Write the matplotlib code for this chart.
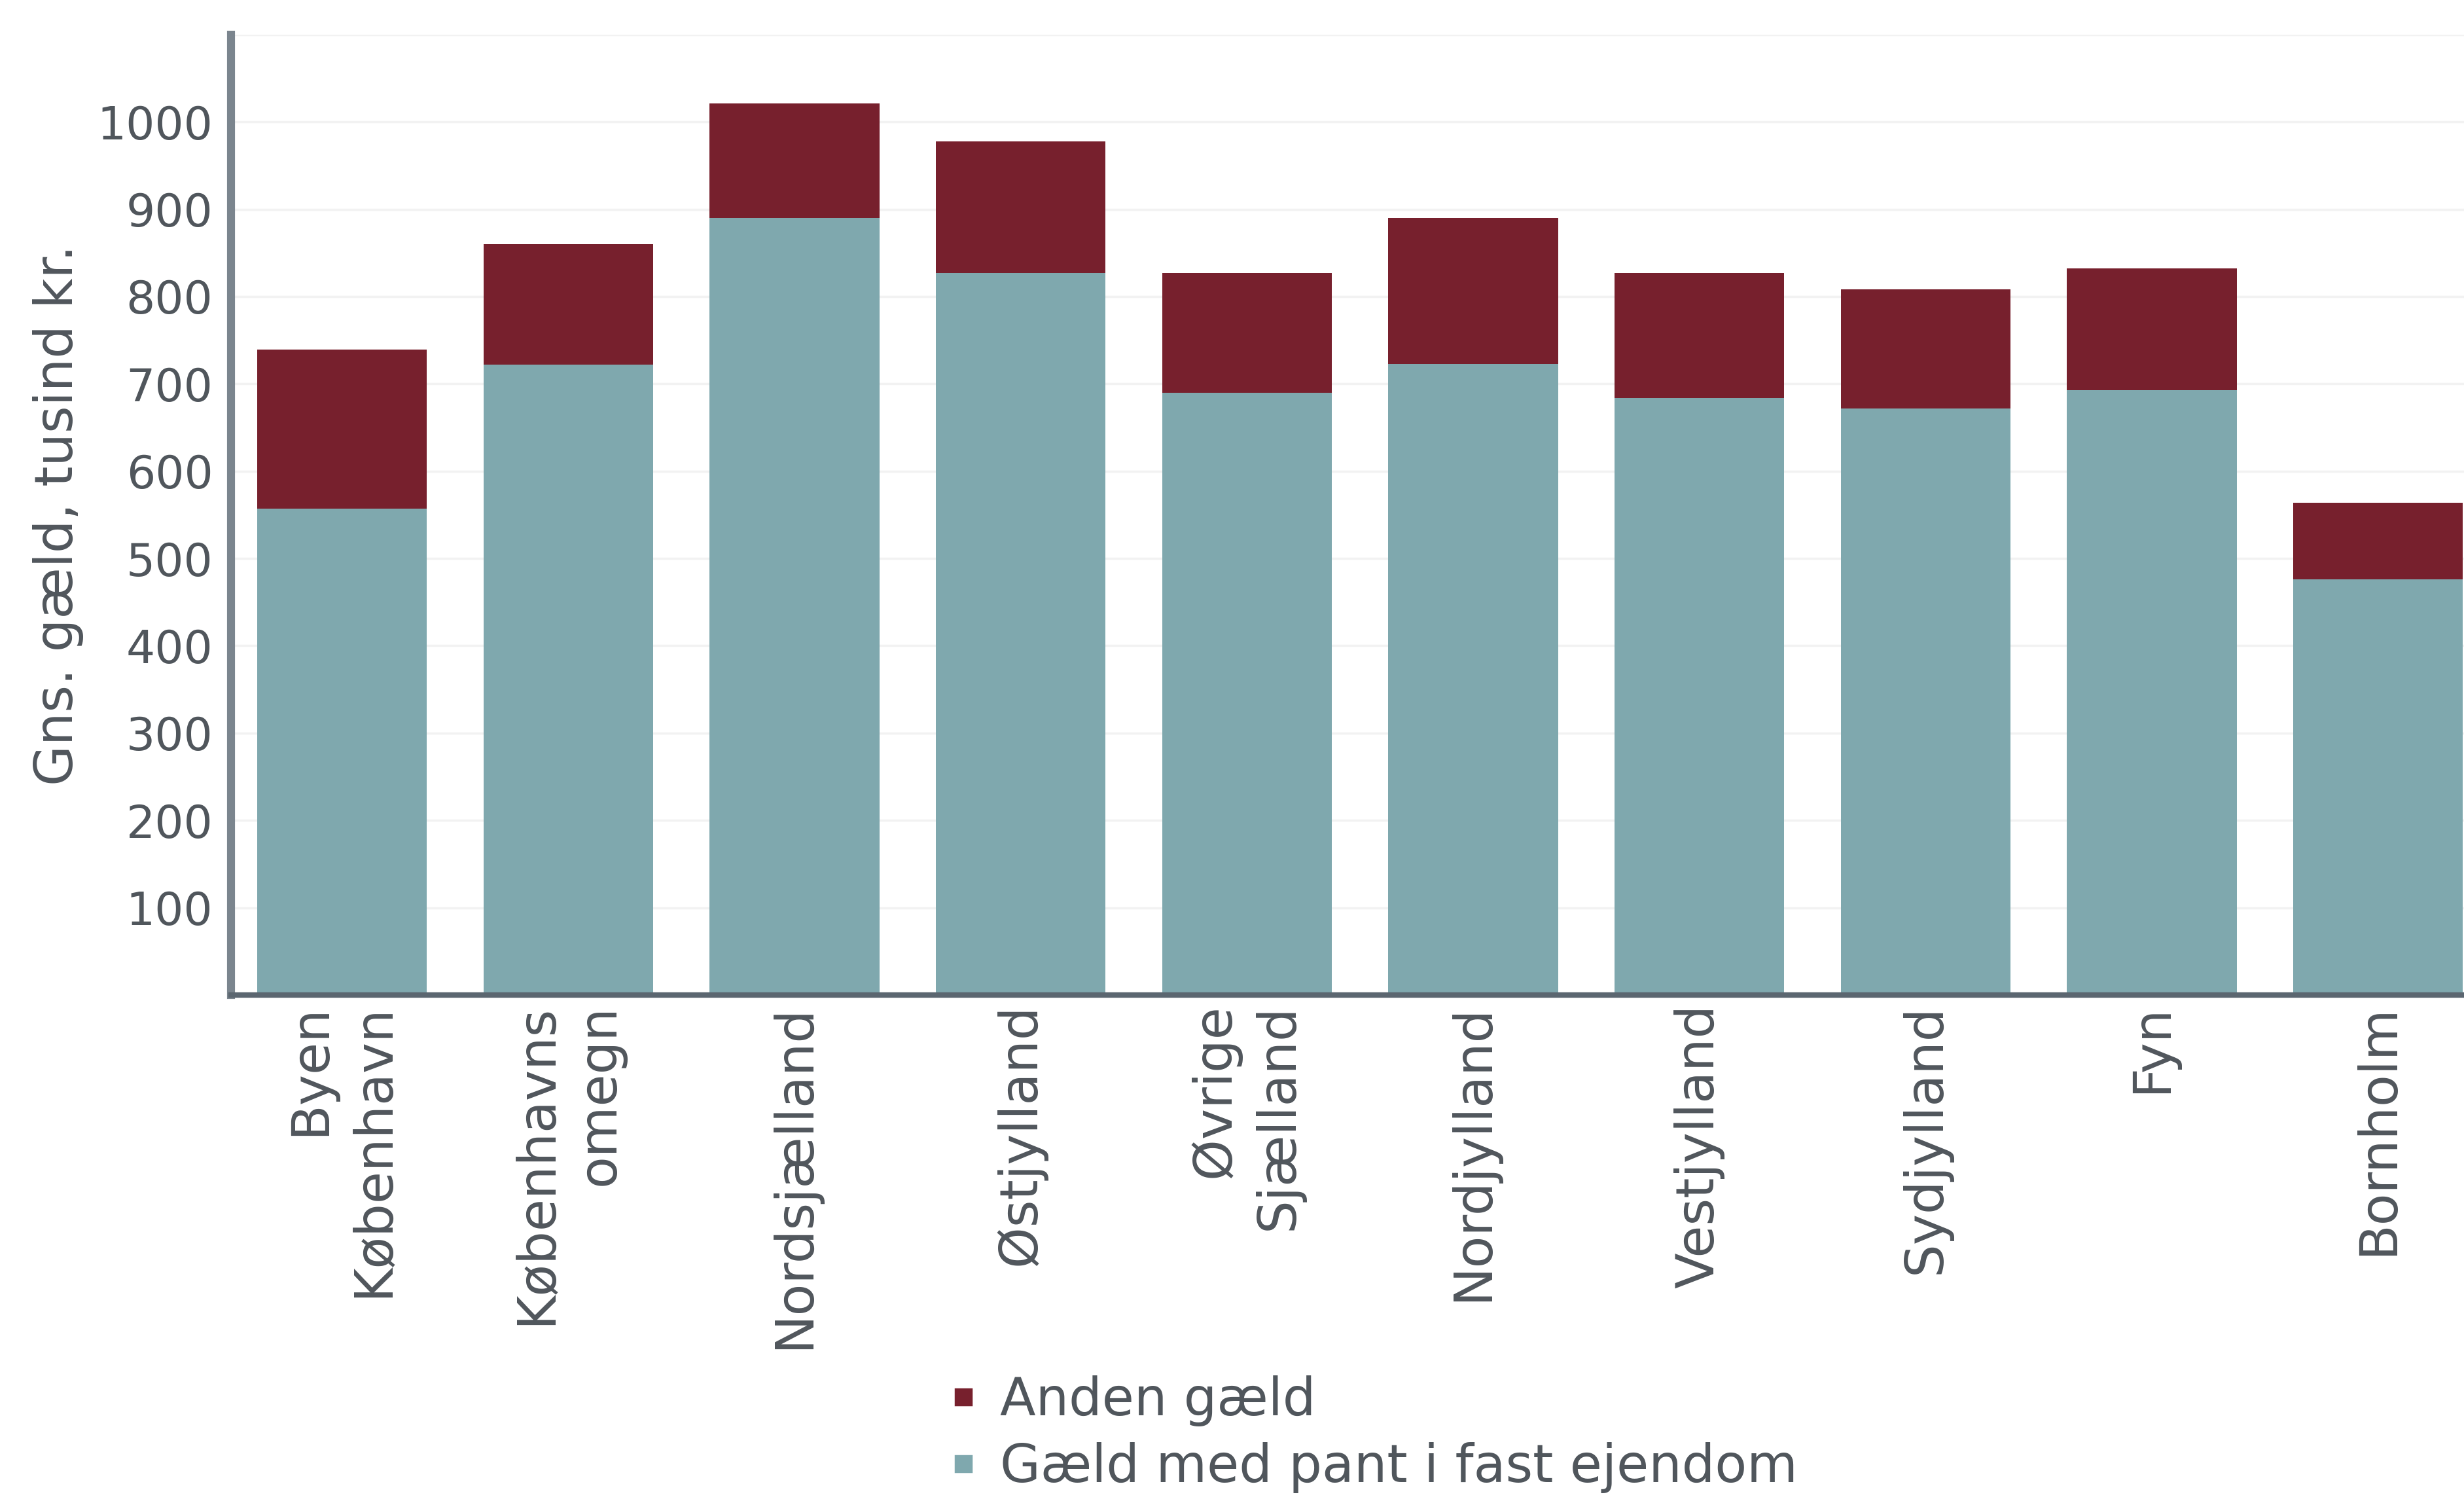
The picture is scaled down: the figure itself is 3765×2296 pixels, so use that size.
import numpy as np
from matplotlib import pyplot as plt
from matplotlib.lines import Line2D

regioner = ['Byen\nKøbenhavn', 'Københavns\nomegn', 'Nordsjælland', 'Østjylland',
            'Øvrige\nSjælland', 'Nordjylland', 'Vestjylland', 'Sydjylland', 'Fyn', 'Bornholm']
pant = [557, 722, 890, 827, 690, 723, 684, 672, 693, 476]
anden = [182, 138, 131, 151, 137, 167, 143, 136, 139, 88]
yticks = [100, 200, 300, 400, 500, 600, 700, 800, 900, 1000]

teal = '#7fa8ae'
rod = '#77202d'
txt = '#50565c'

plt.rcParams['font.family'] = ['DejaVu Sans']

fig = plt.figure(figsize=(15.06, 9.184), dpi=250)
ax = fig.add_axes([0.0938, 0.338, 0.9062, 0.639])

x = np.arange(len(regioner))
ax.bar(x, pant, width=0.75, color=teal, zorder=2)
ax.bar(x, anden, width=0.75, bottom=pant, color=rod, zorder=2)

ax.set_xlim(-0.49, 9.38)
ax.set_ylim(0, 1100)
ax.set_yticks(yticks)
ax.set_yticklabels([str(v) for v in yticks], fontsize=20, color=txt)
ax.set_xticks(x)
ax.set_xticklabels(regioner, rotation=90, fontsize=23, color=txt,
                   va='top', ha='center', multialignment='right', linespacing=1.3)
ax.tick_params(axis='both', length=0)
ax.tick_params(axis='y', pad=8)
ax.tick_params(axis='x', pad=4)

for v in list(yticks) + [1100]:
    ax.axhline(v, color='#f2f2f2', lw=1.0, zorder=1)

for s in ['top', 'right']:
    ax.spines[s].set_visible(False)
ax.spines['left'].set_color('#7b858e')
ax.spines['left'].set_linewidth(3.5)
ax.spines['bottom'].set_color('#5b6670')
ax.spines['bottom'].set_linewidth(2.4)

ax.set_ylabel('Gns. gæld, tusind kr.', fontsize=23, color=txt, labelpad=6)

handles = [Line2D([], [], marker='s', ls='', color=rod, markersize=7),
           Line2D([], [], marker='s', ls='', color=teal, markersize=7)]
fig.legend(handles, ['Anden gæld', 'Gæld med pant i fast ejendom'],
           loc='upper left', bbox_to_anchor=(0.375, 0.099), frameon=False,
           fontsize=23, labelcolor=txt, handletextpad=0.35, labelspacing=0.3,
           borderaxespad=0, handlelength=0.7)

fig.savefig('out.png', dpi=250)
